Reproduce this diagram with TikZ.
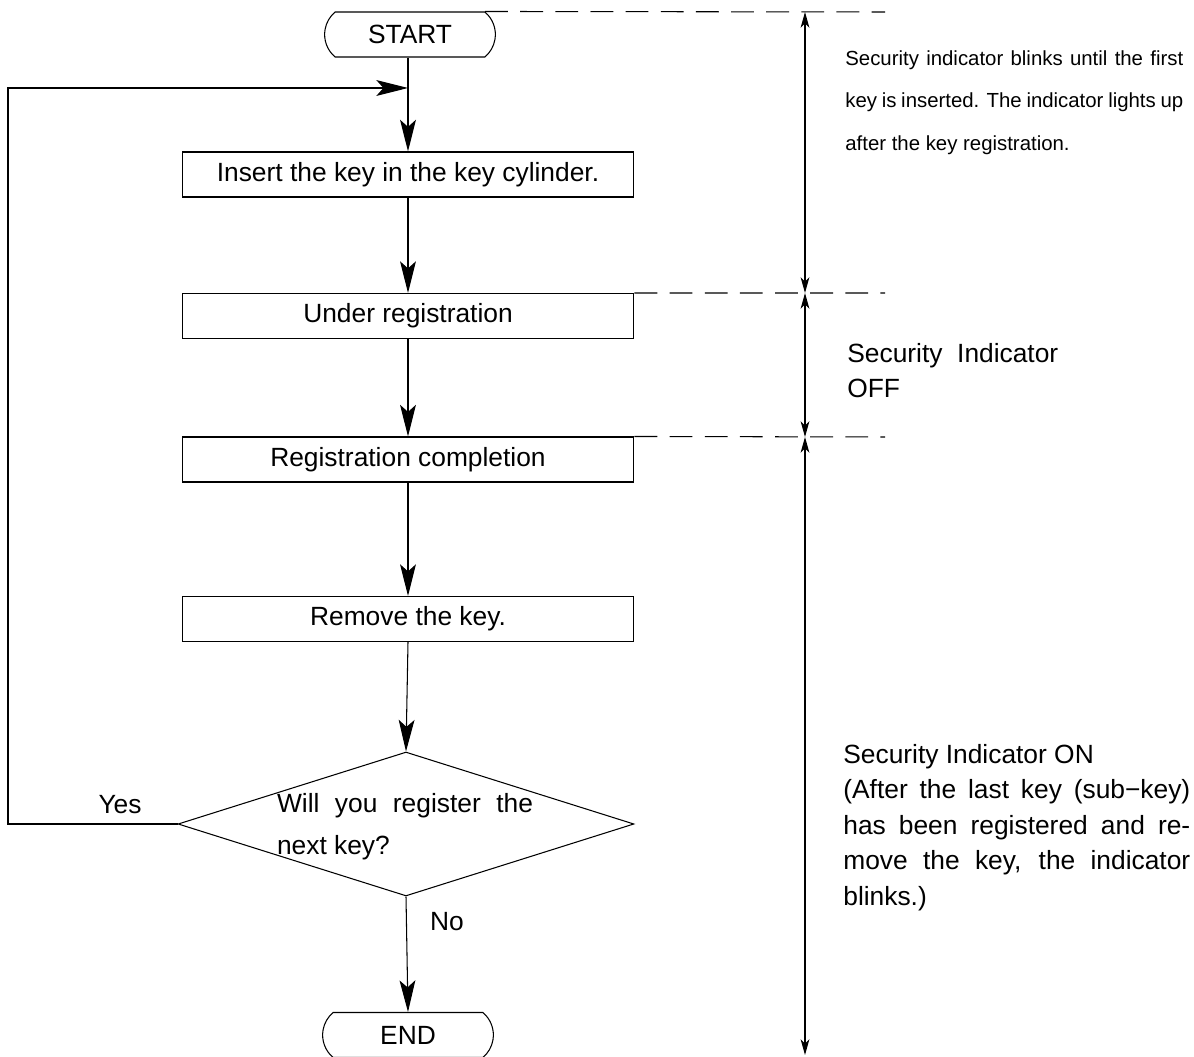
\documentclass[tikz,border=0pt]{standalone}
\usepackage{fontspec}
\setmainfont{Liberation Sans}
\usetikzlibrary{shapes.misc,shapes.geometric,arrows.meta}

\begin{document}
\begin{tikzpicture}[x=0.02cm,y=-0.02cm,
        every node/.style={font=\fontsize{15}{18}\selectfont},
        term/.style={draw,rounded rectangle,rounded rectangle arc length=100,line width=0.6pt,minimum width=3.65cm,minimum height=0.9cm},
        box/.style={draw,line width=0.6pt,minimum width=9.04cm,minimum height=0.9cm},
        decision/.style={draw,diamond,line width=0.6pt,minimum width=9.12cm,minimum height=2.88cm},
        flow/.style={line width=0.6pt,-{Stealth[length=18pt,width=9pt,inset=4pt]}},
        dimline/.style={line width=0.6pt,{Stealth[length=9pt,width=5pt,inset=2.5pt]}-{Stealth[length=9pt,width=5pt,inset=2.5pt]}},
        dashline/.style={line width=0.6pt,dash pattern=on 13pt off 7pt},
        note/.style={anchor=north west,inner sep=0pt,align=justify}]
    \useasboundingbox (0,0) rectangle (1194,1057);
    \node[term] (start) at (410,34.5) {START};
    \node[box] (key) at (408,174.5) {Insert the key in the key cylinder.};
    \node[box] (under) at (408,316) {Under registration};
    \node[box] (done) at (408,459.5) {Registration completion};
    \node[box] (remove) at (408,619) {Remove the key.};
    \node[decision] (dec) at (406,824) {};
    \node[align=justify,text width=5.12cm,inner sep=0pt,font=\fontsize{15}{24}\selectfont] (dectext) at (405,827) {Will you register the\linebreak next key?};
    \node[term] (end) at (408,1035) {END};
    \node (yes) at (120,805) {Yes};
    \node (no) at (447,922) {No};
    \coordinate (join) at (408,88);
    \coordinate (back) at (8,88);
    \draw[flow,line width=1.3pt] (start.south -| key.north) -- (key.north);
    \draw[flow] (key.south) -- (under.north);
    \draw[flow] (under.south) -- (done.north);
    \draw[flow] (done.south) -- (remove.north);
    \draw[flow] (remove.south) -- (dec.north);
    \draw[flow] (dec.south) -- (end.north);
    \draw[flow] (dec.west) -| (back) -- (join);
    \coordinate (e0) at (885,12);
    \coordinate (e1) at (885,293);
    \coordinate (e2) at (885,437);
    \coordinate (d0) at (805,12);
    \coordinate (d1) at (805,293);
    \coordinate (d2) at (805,437);
    \coordinate (d3) at (805,1055);
    \draw[dashline] (start.north east) -- (e0);
    \draw[dashline] (under.north east) -- (e1);
    \draw[dashline] (done.north east) -- (e2);
    \draw[dimline] (d0) -- (d1);
    \draw[dimline] (d1) -- (d2);
    \draw[dimline] (d2) -- (d3);
    \node[note,text width=6.76cm,font=\fontsize{11.6}{24.4}\selectfont] (blink) at (845,50) {Security indicator blinks until the first\linebreak key is inserted. The indicator lights up\linebreak after the key registration.};
    \node[note,align=left,font=\fontsize{15}{19.8}\selectfont] (off) at (847,343) {Security\ \ Indicator\\OFF};
    \node[note,text width=6.94cm,font=\fontsize{15}{20.2}\selectfont] (on) at (843,744) {Security Indicator ON\\(After the last key (sub−key)\linebreak has been registered and re-\linebreak move the key, the indicator\linebreak blinks.)};
\end{tikzpicture}
\end{document}
